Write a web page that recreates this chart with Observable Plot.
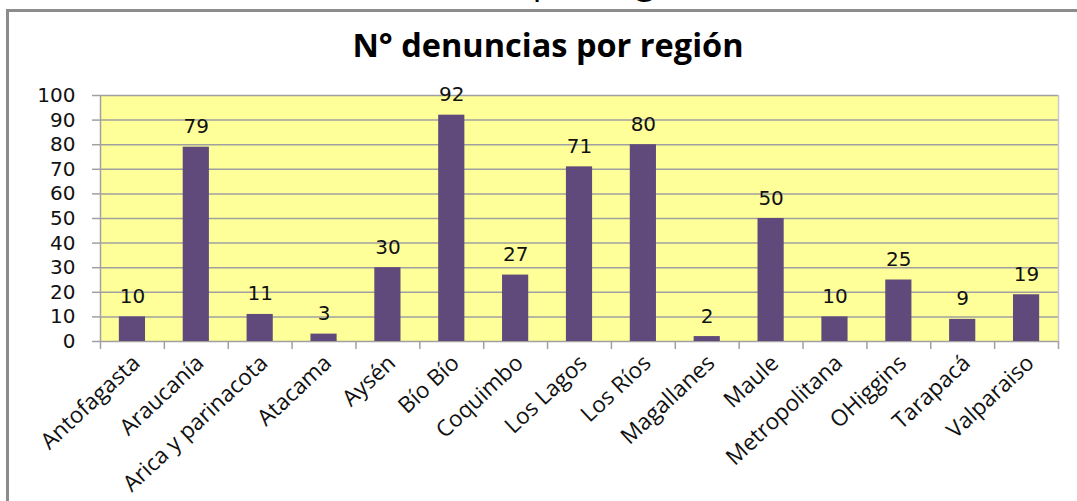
<!DOCTYPE html>
<html>
<head>
<meta charset="utf-8">
<script src="https://cdn.jsdelivr.net/npm/d3@7"></script>
<script src="https://cdn.jsdelivr.net/npm/@observablehq/plot@0.6"></script>
<style>
  html, body { margin: 0; padding: 0; background: #fff; overflow: hidden; }
  #wrap { position: relative; width: 1077px; height: 501px; overflow: hidden; }
  #frame { position: absolute; left: 6px; top: 9px; width: 1200px; height: 600px;
           border-left: 3px solid #8c8c8c; border-top: 3px solid #8c8c8c; }
  #cut { position: absolute; left: 0; width: 1240px; top: -45px; text-align: center;
         font: 36px "Open Sans", sans-serif; color: #000; }
  #title { position: absolute; left: 0; width: 1096px; top: 22px; text-align: center;
           font: bold 32.5px "Open Sans", sans-serif; color: #000; }
  #chart { position: absolute; left: 0; top: 0; }
</style>
</head>
<body>
<div id="wrap">
  <div id="cut">(por región)</div>
  <div id="frame"></div>
  <div id="title">N° denuncias por región</div>
  <div id="chart"></div>
</div>
<script>
const categories = ["Antofagasta", "Araucanía", "Arica y parinacota", "Atacama", "Aysén", "Bío Bío",
  "Coquimbo", "Los Lagos", "Los Ríos", "Magallanes", "Maule", "Metropolitana", "OHiggins", "Tarapacá", "Valparaiso"];
const values = [10, 79, 11, 3, 30, 92, 27, 71, 80, 2, 50, 10, 25, 9, 19];
const yTicks = [0, 10, 20, 30, 40, 50, 60, 70, 80, 90, 100];

const data = categories.map((c, i) => ({i, region: c, value: values[i]}));
const boundaries = d3.range(categories.length + 1);
const centers = categories.map((c, i) => i + 0.5);

const grid = "#a0a0a0";
const chart = Plot.plot({
  width: 1077,
  height: 501,
  marginTop: 95,
  marginLeft: 100,
  marginRight: 19,
  marginBottom: 160,
  style: {background: "transparent", overflow: "visible"},
  x: {type: "linear", domain: [0, categories.length], axis: null},
  y: {domain: [0, 100], axis: null},
  marks: [
    Plot.frame({fill: "#FFFF99", stroke: null}),
    Plot.ruleY(yTicks, {stroke: grid, strokeWidth: 1.5}),
    Plot.ruleX([0], {stroke: grid, strokeWidth: 1.5}),
    Plot.ruleX([categories.length], {stroke: "#c8c8c8", strokeWidth: 1.5}),
    Plot.rectY(data, {x1: d => d.i + 0.295, x2: d => d.i + 0.705, y: "value", fill: "#604A7B"}),
    Plot.text(data, {x: d => d.i + 0.5, y: "value", text: d => String(d.value), lineAnchor: "bottom", dy: -14,
      fontSize: 20, fontFamily: "DejaVu Sans", fill: "#111"}),
    Plot.axisY(yTicks, {label: null, tickSize: 8, tickPadding: 17, fontSize: 20, fontFamily: "DejaVu Sans",
      stroke: grid, fill: "#111", strokeWidth: 1.5}),
    Plot.axisX(boundaries, {label: null, tickSize: 8, tickFormat: () => "", stroke: grid, strokeWidth: 1.5}),
    Plot.axisX(centers, {label: null, tickSize: 0, tickPadding: 18, tickRotate: -43, dx: 4,
      tickFormat: d => categories[Math.floor(d)], fontSize: 22.5, fontFamily: "Open Sans", fill: "#111"})
  ]
});
document.getElementById("chart").appendChild(chart);
</script>
</body>
</html>
